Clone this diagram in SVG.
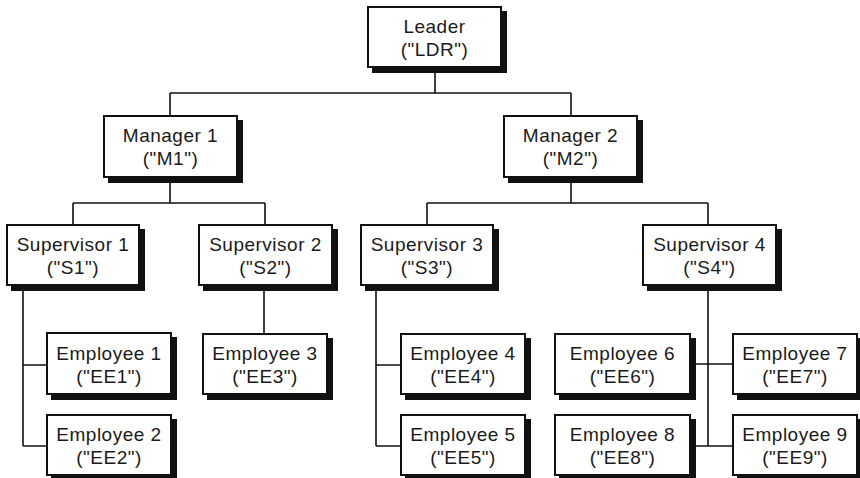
<svg xmlns="http://www.w3.org/2000/svg" width="860" height="478" viewBox="0 0 860 478">
<defs>
<style>
.sh{fill:#111;}
.bx{fill:#fff;stroke:#111;stroke-width:2;}
.t{font-family:"Liberation Sans",Arial,Helvetica,sans-serif;font-size:19px;letter-spacing:0.5px;fill:#1a1a1a;text-anchor:middle;}
.c{fill:none;stroke:#111;stroke-width:1.6;}
</style>
</defs>
<rect width="860" height="478" fill="#fff"/>
<g id="connectors">
<path class="c" d="M435,68V93M170,93H571M170,93V115M571,93V115"/>
<path class="c" d="M170,178V203M73,203H265M73,203V224M265,203V224"/>
<path class="c" d="M571,178V203M427,203H708M427,203V224M708,203V224"/>
<path class="c" d="M23,286V446M23,365H46M23,446H46"/>
<path class="c" d="M264,286V333"/>
<path class="c" d="M376,286V446M376,365H400M376,446H400"/>
<path class="c" d="M708,286V446M691,364H732M691,446H732"/>
</g>
<g id="LDR"><rect class="sh" x="372" y="11" width="135" height="62"/><rect class="bx" x="368" y="7" width="133" height="60"/><text class="t" x="434.5" y="33">Leader</text><text class="t" x="434.5" y="56">("LDR")</text></g>
<g id="M1"><rect class="sh" x="108" y="120" width="135" height="63"/><rect class="bx" x="104" y="116" width="133" height="61"/><text class="t" x="170.5" y="142">Manager 1</text><text class="t" x="170.5" y="165">("M1")</text></g>
<g id="M2"><rect class="sh" x="508" y="120" width="135" height="63"/><rect class="bx" x="504" y="116" width="133" height="61"/><text class="t" x="570.5" y="142">Manager 2</text><text class="t" x="570.5" y="165">("M2")</text></g>
<g id="S1"><rect class="sh" x="11" y="229" width="134" height="62"/><rect class="bx" x="7" y="225" width="132" height="60"/><text class="t" x="73" y="251">Supervisor 1</text><text class="t" x="73" y="274">("S1")</text></g>
<g id="S2"><rect class="sh" x="203" y="229" width="135" height="62"/><rect class="bx" x="199" y="225" width="133" height="60"/><text class="t" x="265.5" y="251">Supervisor 2</text><text class="t" x="265.5" y="274">("S2")</text></g>
<g id="S3"><rect class="sh" x="365" y="229" width="134" height="62"/><rect class="bx" x="361" y="225" width="132" height="60"/><text class="t" x="427" y="251">Supervisor 3</text><text class="t" x="427" y="274">("S3")</text></g>
<g id="S4"><rect class="sh" x="647" y="229" width="135" height="62"/><rect class="bx" x="643" y="225" width="133" height="60"/><text class="t" x="709.5" y="251">Supervisor 4</text><text class="t" x="709.5" y="274">("S4")</text></g>
<g id="EE1"><rect class="sh" x="51" y="337" width="126" height="63"/><rect class="bx" x="47" y="333" width="124" height="61"/><text class="t" x="109" y="360">Employee 1</text><text class="t" x="109" y="383">("EE1")</text></g>
<g id="EE2"><rect class="sh" x="51" y="419" width="126" height="62"/><rect class="bx" x="47" y="415" width="124" height="60"/><text class="t" x="109" y="441">Employee 2</text><text class="t" x="109" y="464">("EE2")</text></g>
<g id="EE3"><rect class="sh" x="207" y="338" width="126" height="62"/><rect class="bx" x="203" y="334" width="124" height="60"/><text class="t" x="265" y="360">Employee 3</text><text class="t" x="265" y="383">("EE3")</text></g>
<g id="EE4"><rect class="sh" x="405" y="338" width="126" height="62"/><rect class="bx" x="401" y="334" width="124" height="60"/><text class="t" x="463" y="360">Employee 4</text><text class="t" x="463" y="383">("EE4")</text></g>
<g id="EE5"><rect class="sh" x="405" y="419" width="126" height="62"/><rect class="bx" x="401" y="415" width="124" height="60"/><text class="t" x="463" y="441">Employee 5</text><text class="t" x="463" y="464">("EE5")</text></g>
<g id="EE6"><rect class="sh" x="559" y="338" width="137" height="62"/><rect class="bx" x="555" y="334" width="135" height="60"/><text class="t" x="622.5" y="360">Employee 6</text><text class="t" x="622.5" y="383">("EE6")</text></g>
<g id="EE7"><rect class="sh" x="737" y="338" width="126" height="62"/><rect class="bx" x="733" y="334" width="124" height="60"/><text class="t" x="795" y="360">Employee 7</text><text class="t" x="795" y="383">("EE7")</text></g>
<g id="EE8"><rect class="sh" x="559" y="419" width="137" height="62"/><rect class="bx" x="555" y="415" width="135" height="60"/><text class="t" x="622.5" y="441">Employee 8</text><text class="t" x="622.5" y="464">("EE8")</text></g>
<g id="EE9"><rect class="sh" x="737" y="419" width="126" height="62"/><rect class="bx" x="733" y="415" width="124" height="60"/><text class="t" x="795" y="441">Employee 9</text><text class="t" x="795" y="464">("EE9")</text></g>
</svg>
